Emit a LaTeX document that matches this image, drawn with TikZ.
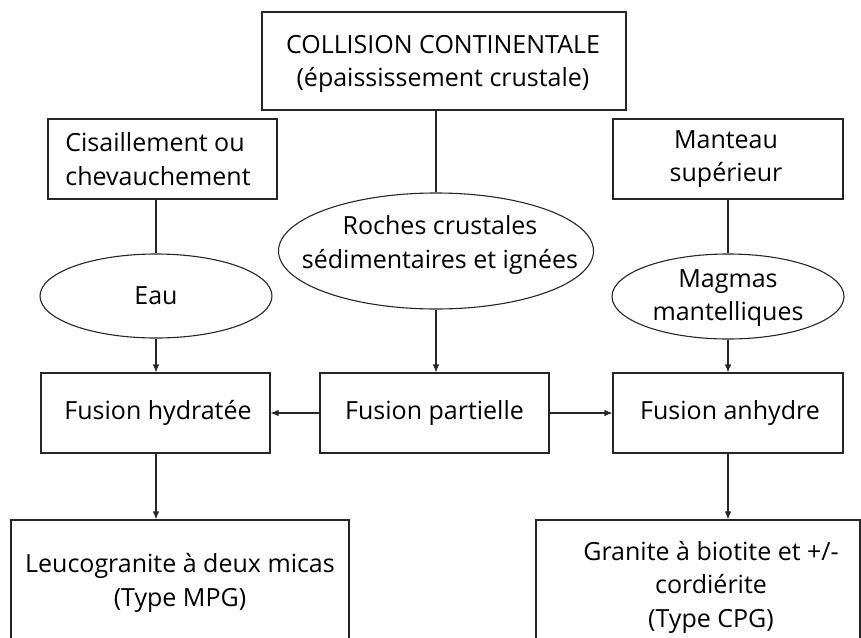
\documentclass[tikz,border=0pt]{standalone}
\usepackage{fontspec}
\setmainfont{Open Sans}
\usetikzlibrary{shapes.geometric,arrows.meta}
\begin{document}
\begin{tikzpicture}[x=1pt,y=-1pt,
  every node/.style={font=\fontsize{25}{33.5}\selectfont, text=black},
  box/.style={draw=black!85, line width=1.1pt, inner sep=0pt, rectangle},
  oval/.style={draw=black!85, line width=1.1pt, inner sep=0pt, ellipse},
  txt/.style={align=center, inner sep=0pt},
  link/.style={draw=black!85, line width=1.1pt},
  arr/.style={link, -{Latex[length=8pt,width=6.5pt]}}]
\useasboundingbox (0,0) rectangle (861,637);
\clip (0,0) rectangle (861,637);
% boxes and ellipses
\node[box, minimum width=364pt, minimum height=98pt] (top) at (444,61) {};
\node[txt] (toptxt) at (443,64) {COLLISION CONTINENTALE\\(épaississement crustale)};
\node[box, minimum width=229pt, minimum height=80pt] (cis) at (162.5,159) {};
\node[txt, align=left] (cistxt) at (158,159) {Cisaillement ou\\chevauchement};
\node[oval, minimum width=232pt, minimum height=84pt] (eau) at (156,296) {};
\node[txt] (eautxt) at (156,296) {Eau};
\node[oval, minimum width=315pt, minimum height=116pt] (roc) at (436,251) {};
\node[txt] (roctxt) at (440,245) {Roches crustales\\sédimentaires et ignées};
\node[box, minimum width=230pt, minimum height=80pt] (man) at (728,159) {};
\node[txt] (mantxt) at (726,159) {Manteau\\supérieur};
\node[oval, minimum width=232pt, minimum height=85pt] (mag) at (728,296.5) {};
\node[txt] (magtxt) at (728,298) {Magmas\\mantelliques};
\node[box, minimum width=229pt, minimum height=80pt] (hyd) at (155.5,413) {};
\node[txt] (hydtxt) at (158,413) {Fusion hydratée};
\node[box, minimum width=229pt, minimum height=80pt] (par) at (434.5,413) {};
\node[txt] (partxt) at (434.5,413) {Fusion partielle};
\node[box, minimum width=230pt, minimum height=80pt] (anh) at (728,413) {};
\node[txt] (anhtxt) at (730,413) {Fusion anhydre};
\node[box, minimum width=338pt, minimum height=140pt] (leu) at (180,590) {};
\node[txt] (leutxt) at (180,583) {Leucogranite à deux micas\\(Type MPG)};
\node[box, minimum width=324pt, minimum height=140pt] (gra) at (698,590) {};
\node[txt] (gratxt) at (711,587) {Granite à biotite et +/-\\cordiérite\\(Type CPG)};
% connectors
\draw[link] (top.south -| roc.north) -- (roc.north);
\draw[link] (cis.south -| eau.north) -- (eau.north);
\draw[link] (man.south -| mag.north) -- (mag.north);
\draw[arr] (eau.south) -- (eau.south |- hyd.north);
\draw[arr] (roc.south) -- (roc.south |- par.north);
\draw[arr] (mag.south) -- (mag.south |- anh.north);
\draw[arr] (par.west) -- (hyd.east);
\draw[arr] (par.east) -- (anh.west);
\draw[arr] (hyd.south -| eau.south) -- (leu.north -| eau.south);
\draw[arr] (anh.south -| mag.south) -- (gra.north -| mag.south);
\end{tikzpicture}
\end{document}
